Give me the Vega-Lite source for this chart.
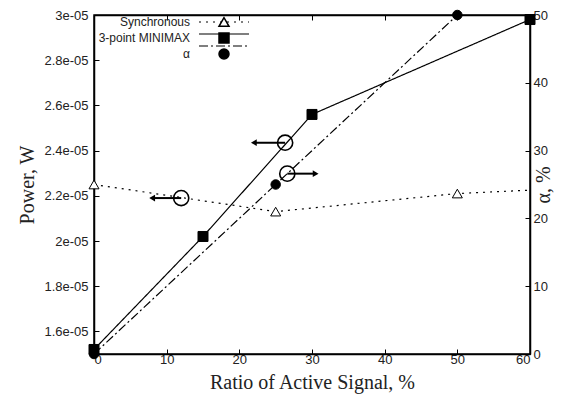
{
  "$schema": "https://vega.github.io/schema/vega-lite/v6.json",
  "width": 436,
  "height": 339,
  "autosize": "none",
  "padding": {"left": 94, "top": 15, "right": 47, "bottom": 47},
  "background": "white",
  "datasets": {
    "curves": [
      {"series": "Synchronous", "ratio": 0, "power": 2.25e-5},
      {"series": "Synchronous", "ratio": 25, "power": 2.13e-5},
      {"series": "Synchronous", "ratio": 50, "power": 2.21e-5},
      {"series": "Synchronous", "ratio": 60, "power": 2.225e-5},
      {"series": "3-point MINIMAX", "ratio": 0, "power": 1.52e-5},
      {"series": "3-point MINIMAX", "ratio": 15, "power": 2.02e-5},
      {"series": "3-point MINIMAX", "ratio": 30, "power": 2.56e-5},
      {"series": "3-point MINIMAX", "ratio": 60, "power": 2.98e-5}
    ],
    "alphaCurve": [
      {"series": "α", "ratio": 0, "alpha": 0},
      {"series": "α", "ratio": 25, "alpha": 25},
      {"series": "α", "ratio": 50, "alpha": 50}
    ],
    "notesLeft": [
      {"ratio": 12, "power": 2.19e-5, "tip": 8},
      {"ratio": 26.3, "power": 2.435e-5, "tip": 22}
    ],
    "notesRight": [
      {"ratio": 26.6, "alpha": 26.6, "tip": 30.5}
    ]
  },
  "config": {
    "view": {"stroke": "black", "strokeWidth": 1.5},
    "axis": {
      "grid": false,
      "labelFont": "Liberation Sans",
      "labelFontSize": 13,
      "labelColor": "#222",
      "titleFont": "Liberation Serif",
      "titleFontSize": 20,
      "titleFontWeight": "normal",
      "titleColor": "#222",
      "domainColor": "black",
      "domainWidth": 1.5,
      "tickColor": "black",
      "tickWidth": 1,
      "tickSize": -5
    },
    "legend": {
      "labelFont": "Liberation Sans",
      "labelFontSize": 12,
      "labelColor": "#222",
      "rowPadding": 0
    }
  },
  "resolve": {"scale": {"y": "independent"}, "axis": {"x": "independent", "y": "independent"}},
  "layer": [
    {
      "data": {"name": "curves"},
      "transform": [{"filter": "datum.series == 'Synchronous'"}],
      "mark": {"type": "line", "stroke": "black", "strokeWidth": 1.2},
      "encoding": {
        "x": {"field": "ratio", "type": "quantitative", "scale": {"domain": [0, 60], "nice": false},
          "axis": {"values": [0, 10, 20, 30, 40, 50, 60], "title": "Ratio of Active Signal, %", "labelPadding": 4, "titlePadding": 6}},
        "y": {"field": "power", "type": "quantitative", "scale": {"domain": [1.5e-5, 3e-5], "nice": false, "zero": false},
          "axis": {"values": [1.6e-5, 1.8e-5, 2e-5, 2.2e-5, 2.4e-5, 2.6e-5, 2.8e-5, 3e-5],
            "labelExpr": "format(datum.value * 1e5, '.1~f') + 'e-05'", "title": "Power, W", "labelPadding": 11, "titlePadding": 6}},
        "strokeDash": {"field": "series", "type": "nominal", "sort": ["Synchronous", "3-point MINIMAX", "α"],
          "scale": {"range": [[2, 5], [1, 0], [9, 3, 2, 3]]},
          "legend": {"title": null, "orient": "none", "legendX": 124, "legendY": 1, "symbolType": "M-5,0H5", "symbolSize": 100,
            "symbolStrokeColor": "black", "symbolStrokeWidth": 1.2, "labelExpr": "''"}}
      }
    },
    {
      "data": {"name": "curves"},
      "transform": [{"filter": "datum.series == '3-point MINIMAX'"}],
      "mark": {"type": "line", "stroke": "black", "strokeWidth": 1.2},
      "encoding": {
        "x": {"field": "ratio", "type": "quantitative", "scale": {"domain": [0, 60], "nice": false},
          "axis": {"orient": "top", "values": [0, 10, 20, 30, 40, 50, 60], "labels": false, "title": null}},
        "y": {"field": "power", "type": "quantitative", "scale": {"domain": [1.5e-5, 3e-5], "nice": false, "zero": false}, "axis": null},
        "strokeDash": {"field": "series", "type": "nominal", "sort": ["Synchronous", "3-point MINIMAX", "α"]}
      }
    },
    {
      "data": {"name": "alphaCurve"},
      "mark": {"type": "line", "stroke": "black", "strokeWidth": 1.2},
      "encoding": {
        "x": {"field": "ratio", "type": "quantitative", "scale": {"domain": [0, 60], "nice": false}, "axis": null},
        "y": {"field": "alpha", "type": "quantitative", "scale": {"domain": [0, 50], "nice": false},
          "axis": {"orient": "right", "values": [0, 10, 20, 30, 40, 50], "title": "α, %", "titleAngle": 270, "labelPadding": 8, "titlePadding": 6}},
        "strokeDash": {"field": "series", "type": "nominal", "sort": ["Synchronous", "3-point MINIMAX", "α"]}
      }
    },
    {
      "data": {"name": "curves"},
      "transform": [{"filter": "datum.series != 'Synchronous' || datum.ratio < 60"}],
      "mark": {"type": "point", "strokeWidth": 1, "opacity": 1, "fillOpacity": 1},
      "encoding": {
        "x": {"field": "ratio", "type": "quantitative", "scale": {"domain": [0, 60], "nice": false}, "axis": null},
        "y": {"field": "power", "type": "quantitative", "scale": {"domain": [1.5e-5, 3e-5], "nice": false, "zero": false}, "axis": null},
        "shape": {"field": "series", "type": "nominal", "scale": {"domain": ["Synchronous", "3-point MINIMAX", "α"], "range": ["triangle-up", "square", "circle"]},
          "legend": {"title": null, "orient": "none", "legendX": 124, "legendY": 1, "labelAlign": "right", "labelOffset": -40}},
        "fill": {"field": "series", "type": "nominal", "scale": {"domain": ["Synchronous", "3-point MINIMAX", "α"], "range": ["white", "black", "black"]},
          "legend": {"title": null, "orient": "none", "legendX": 124, "legendY": 1, "labelAlign": "right", "labelOffset": -40}},
        "stroke": {"field": "series", "type": "nominal", "scale": {"domain": ["Synchronous", "3-point MINIMAX", "α"], "range": ["black", "black", "black"]},
          "legend": {"title": null, "orient": "none", "legendX": 124, "legendY": 1, "labelAlign": "right", "labelOffset": -40}},
        "size": {"value": 100}
      }
    },
    {
      "data": {"name": "alphaCurve"},
      "mark": {"type": "point", "strokeWidth": 1, "opacity": 1, "fillOpacity": 1},
      "encoding": {
        "x": {"field": "ratio", "type": "quantitative", "scale": {"domain": [0, 60], "nice": false}, "axis": null},
        "y": {"field": "alpha", "type": "quantitative", "scale": {"domain": [0, 50], "nice": false}, "axis": null},
        "shape": {"field": "series", "type": "nominal"},
        "fill": {"field": "series", "type": "nominal"},
        "stroke": {"field": "series", "type": "nominal"},
        "size": {"value": 90}
      }
    },
    {
      "data": {"name": "notesLeft"},
      "mark": {"type": "rule", "stroke": "black", "strokeWidth": 2},
      "encoding": {
        "x": {"field": "ratio", "type": "quantitative", "scale": {"domain": [0, 60], "nice": false}, "axis": null},
        "x2": {"field": "tip"},
        "y": {"field": "power", "type": "quantitative", "scale": {"domain": [1.5e-5, 3e-5], "nice": false, "zero": false}, "axis": null}
      }
    },
    {
      "data": {"name": "notesLeft"},
      "mark": {"type": "point", "shape": "triangle-left", "filled": true, "color": "black", "opacity": 1, "size": 45},
      "encoding": {
        "x": {"field": "tip", "type": "quantitative", "scale": {"domain": [0, 60], "nice": false}, "axis": null},
        "y": {"field": "power", "type": "quantitative", "scale": {"domain": [1.5e-5, 3e-5], "nice": false, "zero": false}, "axis": null}
      }
    },
    {
      "data": {"name": "notesLeft"},
      "mark": {"type": "point", "shape": "circle", "fill": "white", "fillOpacity": 0, "stroke": "black", "strokeWidth": 1.6, "opacity": 1, "size": 230},
      "encoding": {
        "x": {"field": "ratio", "type": "quantitative", "scale": {"domain": [0, 60], "nice": false}, "axis": null},
        "y": {"field": "power", "type": "quantitative", "scale": {"domain": [1.5e-5, 3e-5], "nice": false, "zero": false}, "axis": null}
      }
    },
    {
      "data": {"name": "notesRight"},
      "mark": {"type": "rule", "stroke": "black", "strokeWidth": 2},
      "encoding": {
        "x": {"field": "ratio", "type": "quantitative", "scale": {"domain": [0, 60], "nice": false}, "axis": null},
        "x2": {"field": "tip"},
        "y": {"field": "alpha", "type": "quantitative", "scale": {"domain": [0, 50], "nice": false}, "axis": null}
      }
    },
    {
      "data": {"name": "notesRight"},
      "mark": {"type": "point", "shape": "triangle-right", "filled": true, "color": "black", "opacity": 1, "size": 45},
      "encoding": {
        "x": {"field": "tip", "type": "quantitative", "scale": {"domain": [0, 60], "nice": false}, "axis": null},
        "y": {"field": "alpha", "type": "quantitative", "scale": {"domain": [0, 50], "nice": false}, "axis": null}
      }
    },
    {
      "data": {"name": "notesRight"},
      "mark": {"type": "point", "shape": "circle", "fill": "white", "fillOpacity": 0, "stroke": "black", "strokeWidth": 1.6, "opacity": 1, "size": 230},
      "encoding": {
        "x": {"field": "ratio", "type": "quantitative", "scale": {"domain": [0, 60], "nice": false}, "axis": null},
        "y": {"field": "alpha", "type": "quantitative", "scale": {"domain": [0, 50], "nice": false}, "axis": null}
      }
    }
  ]
}
